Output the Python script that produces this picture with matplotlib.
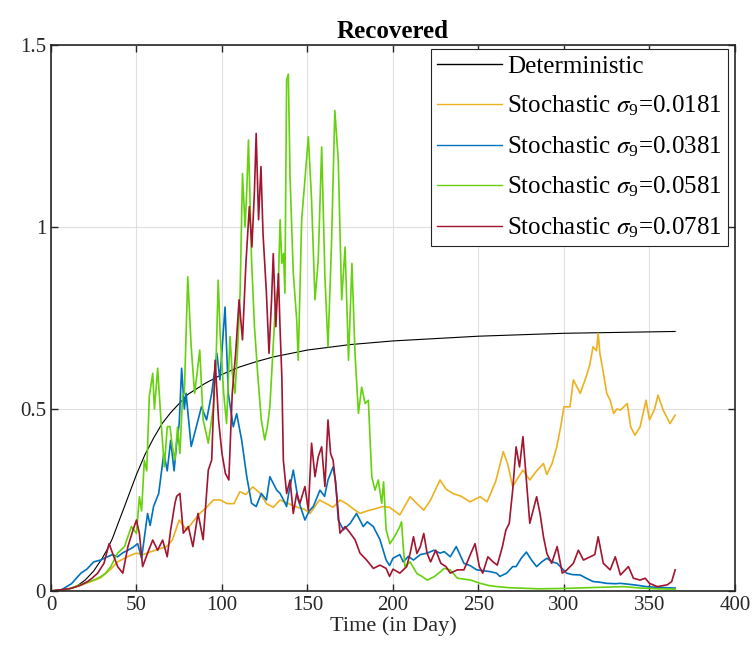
import matplotlib
matplotlib.use('Agg')
import matplotlib.pyplot as plt
import numpy as np

plt.rcParams['font.family'] = ['Liberation Serif', 'DejaVu Serif']
plt.rcParams['mathtext.fontset'] = 'stix'

# deterministic curve
det_days = [0, 10, 15, 20, 25, 30, 33, 36, 40, 43, 46, 50, 55, 60, 65, 70, 75, 80, 90,
            100, 110, 120, 130, 150, 175, 200, 250, 300, 365]
det_vals = [0, 0.005, 0.013, 0.03, 0.055, 0.09, 0.115, 0.145, 0.195, 0.232, 0.27, 0.32,
            0.375, 0.42, 0.46, 0.49, 0.515, 0.54, 0.57, 0.595, 0.615, 0.63, 0.643,
            0.662, 0.677, 0.687, 0.70, 0.708, 0.713]

# sigma9 = 0.0181
y_days = [0, 10, 20, 29, 35, 39, 43, 47, 50, 54, 58.5, 63, 67.6, 71, 75, 79.3, 83, 87,
          91, 95, 99, 103, 107, 110.5, 114, 118, 122, 126, 130, 134, 139, 144, 148,
          151.5, 157, 161, 165, 169, 172.8, 177, 180.7, 185, 190.5, 194, 198, 204, 210,
          214, 218, 222, 227.5, 231, 235, 240, 245, 251, 255, 260, 264.5, 267, 270, 273,
          276, 280, 284, 288, 290, 293, 295.8, 298, 300, 303.5, 305.5, 309.5, 313, 315,
          317, 319, 320, 321, 323, 325, 327, 329, 331, 333, 337, 339, 341.5, 344.5, 348,
          350, 353, 355, 358, 362, 365]
y_vals = [0, 0.005, 0.02, 0.036, 0.06, 0.08, 0.09, 0.099, 0.104, 0.1, 0.108, 0.115,
          0.122, 0.14, 0.195, 0.167, 0.19, 0.213, 0.23, 0.25, 0.25, 0.24, 0.24, 0.273,
          0.265, 0.286, 0.27, 0.24, 0.23, 0.25, 0.24, 0.23, 0.225, 0.213, 0.25, 0.24,
          0.23, 0.25, 0.24, 0.225, 0.213, 0.22, 0.227, 0.232, 0.23, 0.209, 0.259, 0.24,
          0.222, 0.25, 0.305, 0.28, 0.268, 0.26, 0.245, 0.259, 0.245, 0.3, 0.383, 0.35,
          0.287, 0.31, 0.332, 0.305, 0.33, 0.35, 0.32, 0.35, 0.396, 0.45, 0.506, 0.506,
          0.58, 0.543, 0.589, 0.62, 0.671, 0.66, 0.708, 0.653, 0.6, 0.543, 0.524, 0.488,
          0.5, 0.497, 0.515, 0.451, 0.428, 0.451, 0.524, 0.47, 0.5, 0.538, 0.497, 0.46,
          0.483]

# sigma9 = 0.0381
b_days = [0, 6, 12, 17.5, 21, 25, 29, 33, 36, 39, 42, 45, 48, 50.7, 53, 56.5, 58, 60,
          63, 66, 68, 70, 72, 73.5, 75, 76.4, 78, 79, 82, 85, 88, 91, 94, 97, 98.8,
          101.8, 103.7, 106.6, 108.6, 111.5, 114.5, 117.3, 120, 123, 126, 128, 132, 134,
          136, 137.8, 139, 141.7, 144.6, 148.5, 151, 153.4, 157.3, 160, 162, 165, 166.5,
          168, 171, 175, 178.7, 182.6, 185, 188.5, 192.4, 196, 198, 200, 204, 206, 209,
          212, 216, 220, 224, 227.5, 230, 233.5, 237, 241.5, 245, 249, 251, 257, 260.6,
          262.5, 266.5, 270, 272, 275, 278, 281, 284, 287, 290, 293, 296, 301.5, 305,
          309.5, 313, 317, 321, 325, 330, 333, 337, 340.6, 344, 348, 355, 365]
b_vals = [0, 0.003, 0.02, 0.049, 0.06, 0.08, 0.085, 0.094, 0.1, 0.094, 0.105, 0.112,
          0.12, 0.13, 0.09, 0.213, 0.18, 0.232, 0.268, 0.378, 0.33, 0.414, 0.33, 0.406,
          0.46, 0.612, 0.5, 0.543, 0.397, 0.451, 0.506, 0.47, 0.543, 0.653, 0.58, 0.78,
          0.543, 0.451, 0.487, 0.415, 0.314, 0.241, 0.232, 0.268, 0.25, 0.314, 0.277,
          0.268, 0.25, 0.232, 0.268, 0.332, 0.25, 0.195, 0.22, 0.232, 0.277, 0.26, 0.305,
          0.341, 0.3, 0.195, 0.168, 0.186, 0.213, 0.177, 0.19, 0.177, 0.141, 0.085, 0.07,
          0.09, 0.1, 0.08, 0.095, 0.085, 0.1, 0.104, 0.112, 0.104, 0.108, 0.094, 0.122,
          0.076, 0.07, 0.058, 0.057, 0.053, 0.049, 0.04, 0.049, 0.067, 0.067, 0.09,
          0.107, 0.085, 0.067, 0.08, 0.09, 0.08, 0.076, 0.049, 0.045, 0.044, 0.035,
          0.026, 0.024, 0.021, 0.02, 0.021, 0.019, 0.017, 0.015, 0.012, 0.01, 0.008]

# sigma9 = 0.0581
g_days = [0, 10, 19.5, 25, 29, 32, 35, 39, 43, 47, 50, 51.7, 53, 54.6, 56, 57.5, 59.5,
          60.5, 61.4, 62.4, 64.3, 66.3, 68, 69.6, 71, 72.5, 74, 75.4, 77, 78, 80, 82,
          84, 85.5, 87, 89, 92, 95, 96.5, 97.8, 99, 101, 102.7, 104.7, 106, 107.6, 109,
          110.6, 112, 113.5, 114.5, 115.5, 117.3, 119, 121, 123, 125, 126.5, 128, 131,
          133, 134, 135, 136, 136.8, 137.8, 138.8, 139.8, 141.7, 143.7, 144.6, 146.6,
          148.5, 150.5, 152.4, 154.4, 156.3, 158.3, 160.2, 162, 164, 166, 168, 170, 172,
          174, 176, 177.8, 179.8, 181.7, 183.7, 185.6, 187.6, 189.5, 191.4, 193.4, 194.5,
          196, 198.2, 201, 204, 205, 206, 207, 210, 214, 217, 220, 224, 227, 230, 233.5,
          237.7, 241, 245.5, 251, 256, 261, 268, 274, 285, 300, 320, 335, 345, 355, 365]
g_vals = [0, 0.005, 0.021, 0.03, 0.039, 0.049, 0.067, 0.104, 0.122, 0.177, 0.158,
          0.259, 0.22, 0.359, 0.33, 0.534, 0.598, 0.5, 0.552, 0.612, 0.47, 0.341, 0.451,
          0.452, 0.396, 0.36, 0.45, 0.378, 0.538, 0.543, 0.863, 0.671, 0.543, 0.6, 0.662,
          0.47, 0.406, 0.506, 0.62, 0.854, 0.7, 0.543, 0.46, 0.699, 0.6, 0.543, 0.65,
          0.818, 1.147, 1.0, 1.1, 1.239, 0.909, 0.726, 0.589, 0.47, 0.415, 0.45, 0.506,
          0.762, 0.85, 1.02, 0.9, 0.927, 0.818, 1.404, 1.42, 1.138, 0.873, 0.745, 0.634,
          1.02, 1.129, 1.248, 1.074, 0.8, 0.909, 1.22, 0.863, 0.671, 0.945, 1.32, 1.184,
          0.8, 0.945, 0.634, 0.9, 0.652, 0.488, 0.56, 0.515, 0.524, 0.314, 0.277, 0.305,
          0.241, 0.3, 0.168, 0.13, 0.15, 0.177, 0.19, 0.122, 0.067, 0.08, 0.048, 0.04,
          0.03, 0.039, 0.05, 0.062, 0.058, 0.035, 0.033, 0.03, 0.021, 0.015, 0.012,
          0.009, 0.008, 0.006, 0.007, 0.01, 0.012, 0.008, 0.006, 0.005]

# sigma9 = 0.0781
r_days = [0, 11.7, 17, 21.4, 24, 27.3, 31, 34, 36, 39, 42, 45, 48, 50, 51.7, 53.6, 56.5,
          59.5, 62.4, 65.3, 68, 70, 72.5, 73.5, 75.4, 77.4, 80.3, 83, 86, 89, 92, 94, 96,
          98, 100, 102, 104, 106, 108, 110, 112, 114, 116, 117.5, 119, 120, 121.4, 122.8,
          124, 126, 127.5, 129, 130, 131.5, 133, 134, 135, 135.9, 137.8, 139.8, 141.7,
          143.7, 145.6, 148.5, 150.5, 152.4, 154.4, 156.3, 158.3, 160.2, 162, 163.5, 165,
          167, 169, 172, 175, 177.8, 180.7, 184.6, 188.5, 192.4, 196, 198, 200, 204, 208,
          210, 212, 214, 216, 218, 220, 222, 225, 228, 231, 233.5, 237.7, 241.5, 245.5,
          248, 250.5, 252.5, 255.5, 258.5, 261, 264, 266, 268, 270, 272, 274, 276, 278,
          280, 282, 284, 286, 288, 290, 292.8, 296, 299, 301.5, 305.5, 308.4, 311.4,
          315.3, 318, 320, 323, 327, 330, 333, 337.7, 340.6, 344.5, 347.5, 350, 354.6,
          360.4, 363, 365]
r_vals = [0, 0.007, 0.015, 0.026, 0.035, 0.049, 0.076, 0.13, 0.104, 0.067, 0.049, 0.122,
          0.168, 0.195, 0.158, 0.067, 0.104, 0.14, 0.112, 0.14, 0.094, 0.168, 0.241, 0.26,
          0.268, 0.159, 0.177, 0.122, 0.213, 0.141, 0.332, 0.36, 0.634, 0.47, 0.378,
          0.323, 0.305, 0.543, 0.653, 0.8, 0.69, 0.9, 1.056, 0.945, 1.1, 1.257, 1.02,
          1.166, 0.982, 0.818, 0.653, 0.8, 0.927, 0.726, 0.872, 0.717, 0.59, 0.359, 0.268,
          0.305, 0.213, 0.268, 0.241, 0.287, 0.222, 0.406, 0.314, 0.369, 0.396, 0.287,
          0.47, 0.378, 0.359, 0.268, 0.159, 0.177, 0.159, 0.141, 0.104, 0.085, 0.062,
          0.071, 0.062, 0.04, 0.06, 0.049, 0.067, 0.103, 0.149, 0.103, 0.122, 0.158,
          0.103, 0.08, 0.112, 0.076, 0.067, 0.049, 0.058, 0.058, 0.103, 0.13, 0.067,
          0.049, 0.094, 0.08, 0.071, 0.122, 0.167, 0.186, 0.277, 0.396, 0.341, 0.424,
          0.305, 0.186, 0.222, 0.259, 0.213, 0.149, 0.103, 0.076, 0.122, 0.049, 0.057,
          0.076, 0.112, 0.085, 0.094, 0.1, 0.149, 0.076, 0.058, 0.094, 0.044, 0.067,
          0.035, 0.03, 0.035, 0.021, 0.012, 0.017, 0.026, 0.058]

labels = ['Deterministic',
          r'Stochastic $\sigma_{\mathdefault{9}}$=0.0181',
          r'Stochastic $\sigma_{\mathdefault{9}}$=0.0381',
          r'Stochastic $\sigma_{\mathdefault{9}}$=0.0581',
          r'Stochastic $\sigma_{\mathdefault{9}}$=0.0781']
colors = ['#000000', '#EDB120', '#0072BD', '#66D10E', '#A2142F']

fig = plt.figure(figsize=(7.55, 6.59), dpi=100)
ax = fig.add_axes([0.0675, 0.1032, 0.906, 0.8285])

ax.plot(det_days, det_vals, color=colors[0], lw=0.8, label=labels[0])
ax.plot(y_days, y_vals, color=colors[1], lw=1.2, label=labels[1])
ax.plot(b_days, b_vals, color=colors[2], lw=1.2, label=labels[2])
ax.plot(g_days, g_vals, color=colors[3], lw=1.2, label=labels[3])
ax.plot(r_days, r_vals, color=colors[4], lw=1.2, label=labels[4])

ax.set_xlim(0, 400)
ax.set_ylim(0, 1.5)
ax.set_xticks(np.arange(0, 401, 50))
ax.set_yticks([0, 0.5, 1, 1.5])
ax.set_yticklabels(['0', '0.5', '1', '1.5'])
ax.tick_params(direction='in', top=True, right=True, labelsize=15, length=5,
               width=1, colors='#262626')
for s in ax.spines.values():
    s.set_color('#262626')
    s.set_linewidth(1.2)
ax.grid(True, color='#dfdfdf', lw=0.8)
ax.set_axisbelow(True)

ax.set_title('Recovered', fontsize=18, fontweight='bold', pad=5)
ax.set_xlabel('Time (in Day)', fontsize=16, color='#262626', labelpad=1)

leg = ax.legend(loc='upper right', bbox_to_anchor=(0.99, 0.993), borderaxespad=0,
                fontsize=18, handlelength=2.6, handletextpad=0.2, labelspacing=0.65,
                borderpad=0.25, fancybox=False, framealpha=1, edgecolor='#262626')
leg.get_frame().set_linewidth(0.8)
for line in leg.get_lines():
    line.set_linewidth(1.0)

fig.savefig('out.png', dpi=100)
